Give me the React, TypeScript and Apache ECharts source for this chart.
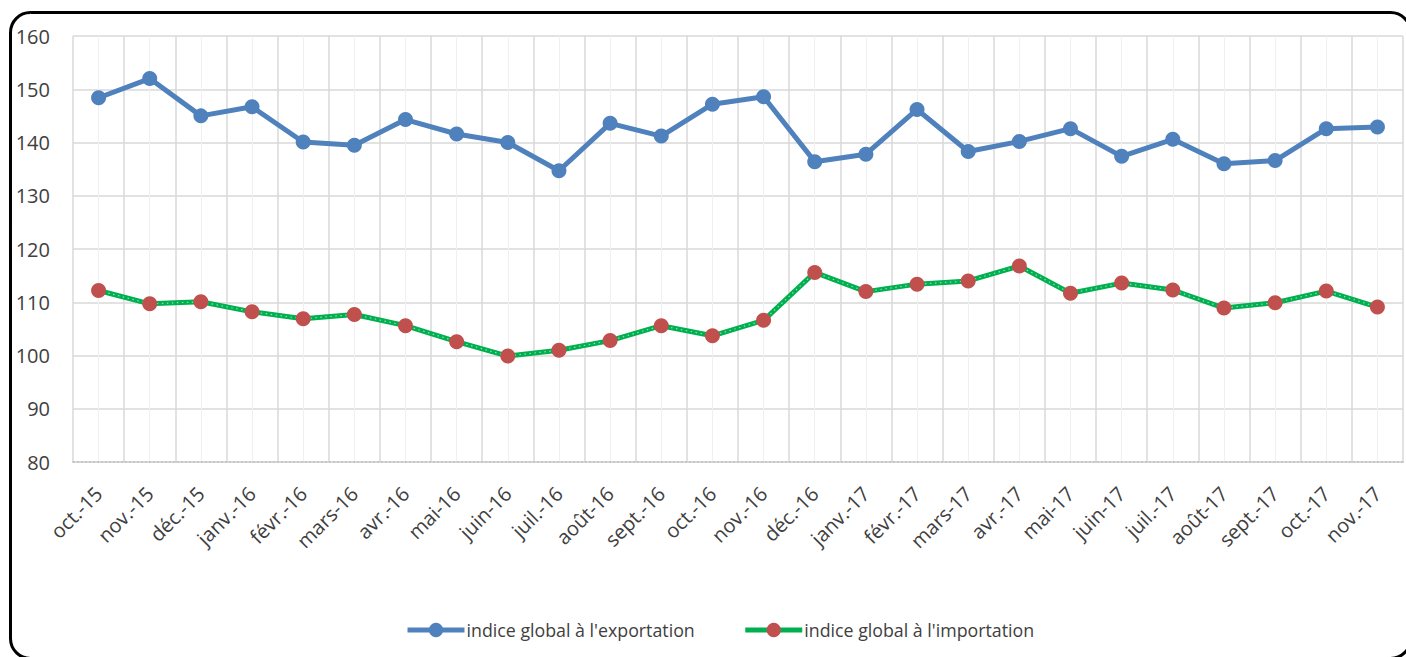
import React, { useEffect, useRef } from "react";
import * as echarts from "echarts";

const categories = [
  "oct.-15", "nov.-15", "déc.-15", "janv.-16", "févr.-16", "mars-16", "avr.-16", "mai-16",
  "juin-16", "juil.-16", "août-16", "sept.-16", "oct.-16", "nov.-16", "déc.-16", "janv.-17",
  "févr.-17", "mars-17", "avr.-17", "mai-17", "juin-17", "juil.-17", "août-17", "sept.-17",
  "oct.-17", "nov.-17",
];

const exportIndex = [
  148.4, 152.0, 145.0, 146.7, 140.1, 139.5, 144.3, 141.6, 140.0, 134.7, 143.6, 141.2, 147.2,
  148.6, 136.4, 137.8, 146.2, 138.3, 140.2, 142.6, 137.4, 140.6, 136.0, 136.6, 142.6, 142.9,
];

const importIndex = [
  112.2, 109.7, 110.1, 108.2, 106.9, 107.7, 105.6, 102.6, 99.9, 101.0, 102.8, 105.6, 103.7,
  106.6, 115.6, 112.0, 113.4, 114.0, 116.8, 111.7, 113.6, 112.3, 108.9, 109.9, 112.1, 109.1,
];

const seriesNames = ["indice global à l'exportation", "indice global à l'importation"];

const yMin = 80;
const yMax = 160;
const yStep = 10;

export default function App() {
  const ref = useRef<HTMLDivElement>(null);

  useEffect(() => {
    if (!ref.current) return;
    const chart = echarts.init(ref.current, undefined, { renderer: "svg" });
    const halfSteps = Array.from({ length: categories.length * 2 + 1 }, (_, i) => String(i));
    const font = "'Open Sans', sans-serif";
    chart.setOption({
      animation: false,
      backgroundColor: "#ffffff",
      grid: { left: 73, right: 3, top: 36, bottom: 195, containLabel: false },
      legend: {
        data: seriesNames,
        top: 621,
        left: 405,
        padding: 0,
        itemWidth: 57,
        itemHeight: 18,
        itemGap: 48,
        lineStyle: { width: 5 },
        textStyle: { color: "#404040", fontSize: 17.8, fontFamily: font, padding: [0, 0, 0, -3] },
      },
      xAxis: [
        {
          type: "category",
          data: categories,
          boundaryGap: true,
          axisLine: { show: true, lineStyle: { color: "#c8c8c8", width: 2, type: [2, 2] } },
          axisTick: { show: false },
          splitLine: { show: true, lineStyle: { color: "#d9d9d9", width: 1.5 } },
          axisLabel: {
            color: "#404040",
            fontSize: 20,
            fontFamily: font,
            rotate: 45,
            margin: 28,
            interval: 0,
          },
        },
        {
          type: "category",
          data: halfSteps,
          boundaryGap: false,
          position: "bottom",
          axisLine: { show: false },
          axisTick: { show: false },
          axisLabel: { show: false },
          splitLine: {
            show: true,
            interval: (index: number) => index % 2 === 1,
            lineStyle: { color: "#f0f0f0", width: 1 },
          },
          z: 0,
        },
      ],
      yAxis: {
        type: "value",
        min: yMin,
        max: yMax,
        interval: yStep,
        axisLine: { show: false },
        axisTick: { show: false },
        axisLabel: { color: "#404040", fontSize: 20, fontFamily: font, margin: 23 },
        splitLine: { show: true, showMinLine: false, lineStyle: { color: "#d9d9d9", width: 1.5 } },
      },
      series: [
        {
          name: seriesNames[0],
          type: "line",
          data: exportIndex,
          symbol: "circle",
          symbolSize: 15,
          lineStyle: { color: "#4f81bd", width: 5 },
          itemStyle: { color: "#4f81bd" },
          z: 3,
        },
        {
          name: seriesNames[1],
          type: "line",
          data: importIndex,
          symbol: "circle",
          symbolSize: 15,
          lineStyle: { color: "#00b050", width: 5 },
          itemStyle: { color: "#c0504d" },
          z: 3,
        },
        {
          name: "importDots",
          type: "line",
          data: importIndex,
          symbol: "none",
          silent: true,
          lineStyle: { color: "#8fdcab", width: 1.2, type: [1.5, 3.5] },
          z: 3,
        },
      ],
      graphic: [
        {
          type: "rect",
          shape: { x: 10.5, y: 12.5, width: 1400, height: 646, r: 20 },
          style: { fill: "none", stroke: "#000000", lineWidth: 3 },
          silent: true,
          z: 10,
        },
      ],
    });
    return () => chart.dispose();
  }, []);

  return (
    <div
      ref={ref}
      style={{ position: "fixed", left: 0, top: 0, width: 1406, height: 657 }}
    />
  );
}
